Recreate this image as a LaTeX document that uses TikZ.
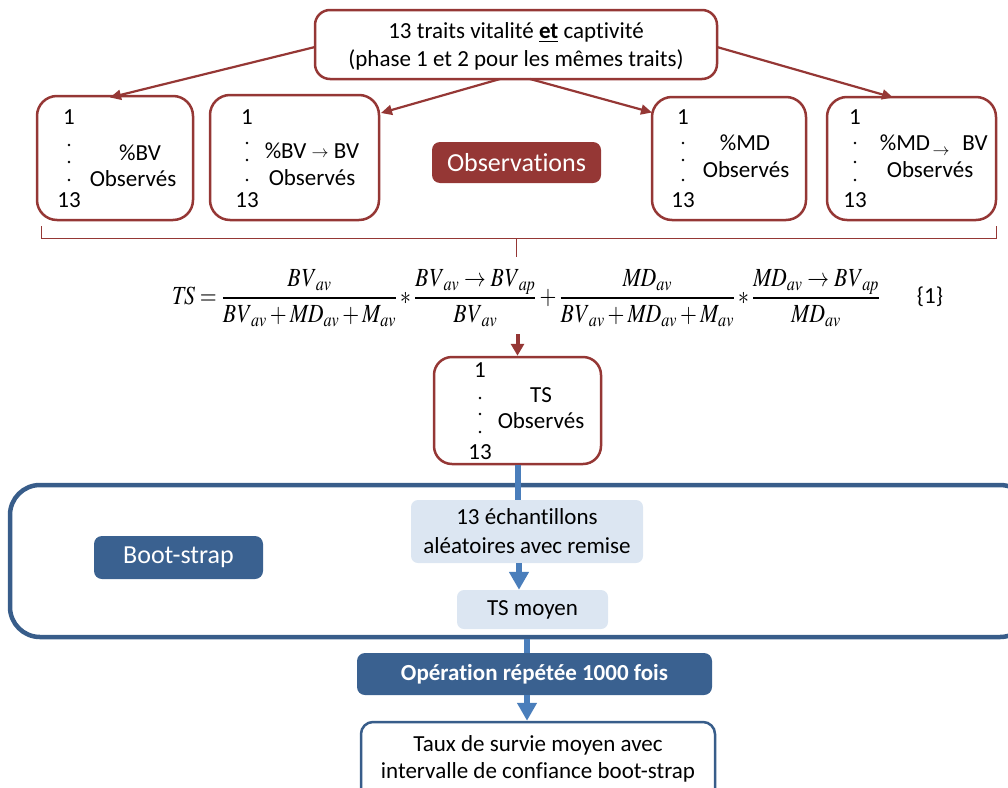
\documentclass[tikz,border=0pt]{standalone}
\usepackage{graphicx}
\usepackage{mathptmx}
\usepackage[no-math]{fontspec}
\setmainfont[Ligatures=NoCommon]{Carlito}
\usetikzlibrary{arrows.meta}
\definecolor{dred}{HTML}{953735}
\definecolor{dblue}{HTML}{385D8A}
\definecolor{lblue}{HTML}{4A7EBB}
\definecolor{pale}{HTML}{DCE6F2}
\definecolor{lab}{HTML}{3A6190}
\newcommand{\mv}[2]{\mathit{#1}_{\mathit{#2}}}
\begin{document}
\begin{tikzpicture}[x=1pt,y=-1pt,
  every node/.style={inner sep=0pt, font=\fontsize{23}{27}\selectfont},
  redbox/.style={draw=dred, line width=2.5pt, rounded corners=20pt, fill=white},
  redarrow/.style={draw=dred, line width=2.2pt, -{Triangle[length=11pt,width=10pt]}},
  bracketline/.style={draw=dred, line width=1pt},
  palebox/.style={fill=pale, rounded corners=7pt},
  bluelabel/.style={fill=lab, rounded corners=8pt, text=white},
  bluelink/.style={draw=lblue, line width=6pt},
  bluearrow/.style={draw=lblue, line width=6pt, -{Triangle[length=18pt,width=19pt]}},
  dot/.style={fill=black},
  bigfont/.style={font=\fontsize{26}{30}\selectfont}
]
\useasboundingbox (0,0) rectangle (1008,787);
\clip (0,0) rectangle (1008,787);

% top box
\node[redbox, rounded corners=15pt, minimum width=402pt, minimum height=69pt] (top) at (516,44.5) {};
\node[align=center, font=\fontsize{23}{28}\selectfont] (toptxt) at (516,46) {13 traits vitalité \textbf{\underline{et}} captivité\\(phase 1 et 2 pour les mêmes traits)};

% observation boxes
\node[redbox, minimum width=156pt, minimum height=124pt] (A) at (115,158) {};
\node[redbox, minimum width=169pt, minimum height=125pt] (B) at (294.5,157.5) {};
\node[redbox, minimum width=154pt, minimum height=123pt] (C) at (729,158.5) {};
\node[redbox, minimum width=169pt, minimum height=123pt] (D) at (911.5,158.5) {};

% box A text
\node (a1) at (69,117) {1};
\node (a13) at (69,200) {13};
\node (abv) at (140,153) {\%BV};
\node (aobs) at (133,179) {Observés};
\fill[dot] (69,145) circle (1.3pt) (69,162) circle (1.3pt) (69,180) circle (1.3pt);

% box B text
\node (b1) at (247,117) {1};
\node (b13) at (247,200) {13};
\node (bbv) at (312,151) {\%BV \raisebox{1pt}{$\scriptstyle\rightarrow$} BV};
\node (bobs) at (312,178) {Observés};
\fill[dot] (247,143) circle (1.3pt) (247,160) circle (1.3pt) (247,180) circle (1.3pt);

% box C text
\node (c1) at (683,117) {1};
\node (c13) at (683,200) {13};
\node (cmd) at (745,143) {\%MD};
\node (cobs) at (746,170) {Observés};
\fill[dot] (683,143) circle (1.3pt) (683,160) circle (1.3pt) (683,180) circle (1.3pt);

% box D text
\node (d1) at (855,117) {1};
\node (d13) at (855,200) {13};
\node (dmd) at (905,143) {\%MD};
\node (darr) at (941,152) {$\scriptstyle\rightarrow$};
\node (dbv) at (975,143) {BV};
\node (dobs) at (930,170) {Observés};
\fill[dot] (855,143) circle (1.3pt) (855,162) circle (1.3pt) (855,180) circle (1.3pt);

% Observations label
\node[bluelabel, fill=dred, bigfont, minimum width=169pt, minimum height=41pt] (obs) at (516.5,162.5) {Observations};

% arrows from top box
\coordinate (tA) at (315,47);
\coordinate (tB) at (500,79);
\coordinate (tC) at (530,79);
\coordinate (tD) at (717,47);
\coordinate (hA) at (110,97.5);
\coordinate (hB) at (381,113);
\coordinate (hC) at (652,112.5);
\coordinate (hD) at (893,97.5);
\draw[redarrow] (tA) -- (hA);
\draw[redarrow] (tB) -- (hB);
\draw[redarrow] (tC) -- (hC);
\draw[redarrow] (tD) -- (hD);

% bracket
\coordinate (brL) at (41,226);
\coordinate (brR) at (996,226);
\coordinate (brM) at (516,238);
\coordinate (brMb) at (516,257);
\draw[bracketline] (brL) -- (41,238) -- (996,238) -- (brR);
\draw[bracketline] (brM) -- (brMb);

% formula
\node (eq) at (526,298) {\scalebox{1}[1.2]{\resizebox{708pt}{!}{$\displaystyle \mathit{TS}=\frac{\mv{BV}{av}}{\mv{BV}{av}+\mv{MD}{av}+\mv{M}{av}}*\frac{\mv{BV}{av}\rightarrow \mv{BV}{ap}}{\mv{BV}{av}}+\frac{\mv{MD}{av}}{\mv{BV}{av}+\mv{MD}{av}+\mv{M}{av}}*\frac{\mv{MD}{av}\rightarrow \mv{BV}{ap}}{\mv{MD}{av}}$}}};
\node (eqn) at (930,297) {\{1\}};

% TS observed box
\node[redbox, rounded corners=18pt, minimum width=167pt, minimum height=107pt] (E) at (517.5,410.5) {};
\node (e1) at (480,370) {1};
\node (e13) at (480,452) {13};
\node (ets) at (541,395) {TS};
\node (eobs) at (541,421) {Observés};
\fill[dot] (480,398) circle (1.3pt) (480,414) circle (1.3pt) (480,432) circle (1.3pt);
\coordinate (eqb) at (517.5,334);
\draw[draw=dred, line width=4pt, -{Triangle[length=12pt,width=13pt]}] (eqb) -- (E.north);

% boot-strap frame
\node[draw=dblue, line width=4.5pt, rounded corners=30pt, minimum width=1020pt, minimum height=152pt] (boot) at (520,561) {};
\node[bluelabel, bigfont, minimum width=169pt, minimum height=43pt] (bootlab) at (178.5,557.5) {Boot-strap};

\node[palebox, minimum width=232pt, minimum height=63pt] (samp) at (527,531.5) {};
\node[align=center, font=\fontsize{23}{29}\selectfont] (samptxt) at (527,531) {13 échantillons\\aléatoires avec remise};
\node[palebox, minimum width=151pt, minimum height=39pt] (tsm) at (532.5,609.5) {TS moyen};

\draw[bluelink] (E.south) -- (samp.north -| E.south);
\draw[bluearrow] (samp.south -| 519,0) -- (tsm.north -| 519,0);

% operation
\node[bluelabel, font=\bfseries\fontsize{23}{27}\selectfont, minimum width=355pt, minimum height=42pt] (op) at (534.5,674) {Opération répétée 1000 fois};
\draw[bluelink] (boot.south -| 527,0) -- (op.north -| 527,0);

% final
\node[draw=dblue, line width=2.5pt, rounded corners=12pt, fill=white, minimum width=354pt, minimum height=90pt] (fin) at (538,767) {};
\node[align=center, font=\fontsize{23}{27}\selectfont] (fintxt) at (538,759) {Taux de survie moyen avec\\intervalle de confiance boot-strap};
\draw[bluearrow] (op.south -| 527,0) -- (fin.north -| 527,0);
\end{tikzpicture}
\end{document}
